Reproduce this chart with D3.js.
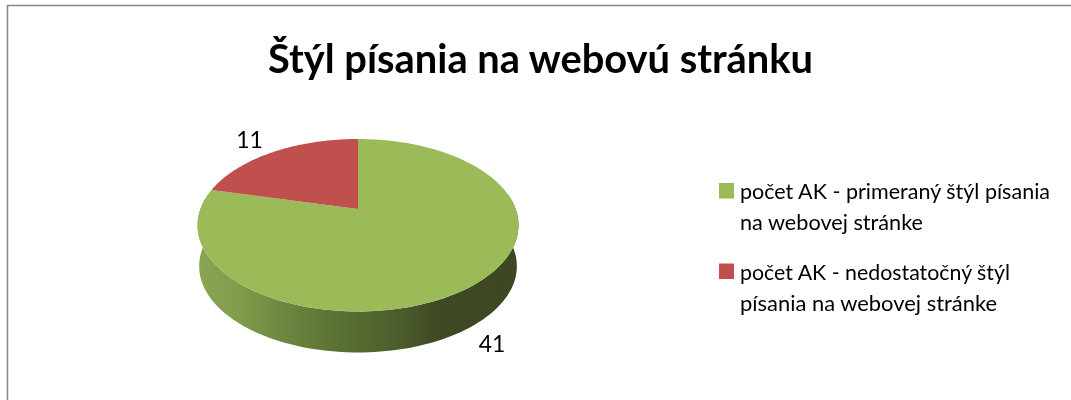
<!DOCTYPE html>
<html>
<head>
<meta charset="utf-8">
<script src="https://cdn.jsdelivr.net/npm/d3@7"></script>
<style>
  html, body { margin: 0; padding: 0; background: #fff; }
  svg { display: block; }
  text { fill: #000; font-family: Lato; }
  .soft { filter: blur(0.4px); }
</style>
</head>
<body>
<svg id="chart" width="1071" height="400"></svg>
<script>
const title = "Štýl písania na webovú stránku";
const categories = [
  ["počet AK - primeraný štýl písania", "na webovej stránke"],
  ["počet AK - nedostatočný štýl", "písania na webovej stránke"],
];
const values = [41, 11];
const colors = ["#9bbb59", "#c0504d"];

const svg = d3.select("#chart");

// outer frame, only top and left edges are in the crop
svg.append("path")
  .attr("d", "M7.5,400V5.5H1071")
  .attr("fill", "none")
  .attr("stroke", "#868686")
  .attr("stroke-width", 1.5);

svg.append("text")
  .attr("class", "soft")
  .attr("x", 268)
  .attr("y", 73)
  .attr("font-weight", 700)
  .attr("font-size", 41)
  .attr("textLength", 545)
  .attr("lengthAdjust", "spacingAndGlyphs")
  .text(title);

// pie, tilted with a perspective so the apex sits above the ellipse middle
const cx = 358;
const apexY = 209;
const radius = 157.6;
const foreshorten = 83.2;
const persp = 0.188;
const depth = 41;

const project = (angle, r = 1) => {
  const u = r * Math.sin(angle);
  const v = -r * Math.cos(angle);
  const w = 1 - persp * v;
  return [cx + (radius * u) / w, apexY + (foreshorten * v) / w];
};

// clockwise from 12 o'clock, green first
const arcs = d3.pie().sort(null)(values);
const line = d3.line();
const arcPoints = (a0, a1) =>
  d3.range(0, 121).map((i) => project(a0 + ((a1 - a0) * i) / 120));

const defs = svg.append("defs");
const grad = defs.append("linearGradient")
  .attr("id", "side")
  .attr("gradientUnits", "userSpaceOnUse")
  .attr("x1", 198)
  .attr("x2", 518)
  .attr("y1", 0)
  .attr("y2", 0);
[
  [0, "#8aa652"],
  [0.14, "#7f9a4a"],
  [0.32, "#677f3c"],
  [0.5, "#556a30"],
  [0.65, "#4a5a2b"],
  [0.74, "#3f4a24"],
  [1, "#3c4822"],
].forEach(([o, c]) => grad.append("stop").attr("offset", o).attr("stop-color", c));

// wall of the disc: front half of the rim swept down
const front = arcPoints(Math.PI * 0.44, Math.PI * 1.56);
const bottom = front.map(([x, y]) => [cx + (x - cx) * 0.99, y + depth]).reverse();
svg.append("path")
  .attr("d", line(front.concat(bottom)) + "Z")
  .attr("fill", "url(#side)");

svg.selectAll(".slice")
  .data(arcs)
  .join("path")
  .attr("class", "slice")
  .attr("fill", (d, i) => colors[i])
  .attr("d", (d) => line([[cx, apexY], ...arcPoints(d.startAngle, d.endAngle)]) + "Z");

// data labels
const labelPos = [[492, 352], [249.5, 148]];
svg.selectAll(".value")
  .data(values)
  .join("text")
  .attr("class", "value soft")
  .attr("x", (d, i) => labelPos[i][0])
  .attr("y", (d, i) => labelPos[i][1])
  .attr("text-anchor", "middle")
  .attr("font-size", 23)
  .text((d) => d);

// legend
const legendX = 719;
const legendY = [190.5, 271];
const legendWidths = [[310, 183], [270, 257]];
const legend = svg.selectAll(".legend")
  .data(categories)
  .join("g")
  .attr("class", "legend")
  .attr("transform", (d, i) => `translate(${legendX},${legendY[i]})`);
legend.append("rect")
  .attr("y", -7.5)
  .attr("width", 15)
  .attr("height", 15.5)
  .attr("fill", (d, i) => colors[i]);
legend.each(function (d, k) {
  d3.select(this).selectAll("text")
    .data(d)
    .join("text")
    .attr("class", "soft")
    .attr("x", 21)
    .attr("y", (t, i) => 8.5 + i * 31)
    .attr("font-size", 22)
    .attr("textLength", (t, i) => legendWidths[k][i])
    .attr("lengthAdjust", "spacingAndGlyphs")
    .text((t) => t);
});
</script>
</body>
</html>
